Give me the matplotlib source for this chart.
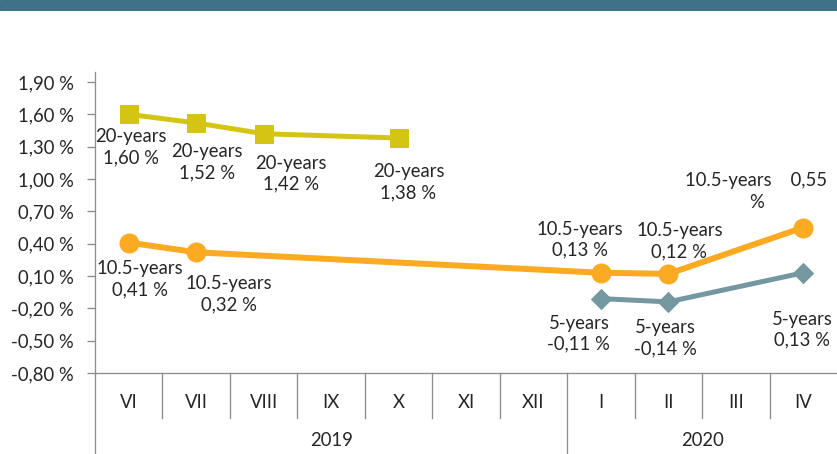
import matplotlib
matplotlib.use('Agg')
import matplotlib.pyplot as plt
from matplotlib.lines import Line2D
from matplotlib.patches import Rectangle

# data
months = ['VI', 'VII', 'VIII', 'IX', 'X', 'XI', 'XII', 'I', 'II', 'III', 'IV']
years = ['2019', '2020']
year_spans = [(0, 6), (7, 10)]

y20 = [1.60, 1.52, 1.42, None, 1.38, None, None, None, None, None, None]
y105 = [0.41, 0.32, None, None, None, None, None, 0.13, 0.12, None, 0.55]
y5 = [None, None, None, None, None, None, None, -0.11, -0.14, None, 0.13]

yticks = [-0.8, -0.5, -0.2, 0.1, 0.4, 0.7, 1.0, 1.3, 1.6, 1.9]

# label offsets (points) from each marker, as laid out in the original
off20 = [(2, -33), (11, -39), (27, -40), None, (10, -44)] + [None] * 6
off105 = [(11, -37), (33, -42)] + [None] * 5 + [(-21, 33), (11, 33), None, (-47, 36)]
off5 = [None] * 7 + [(-22, -35), (-3, -36), None, (-1, -57)]

FONT = 'Lato'
FS = 18.5
TXT = '#262626'
GRID = '#8c8c8c'

plt.rcParams['font.family'] = FONT


def fmt(v):
    return ('%.2f' % v).replace('.', ',') + ' %'


W, H = 837, 454
fig = plt.figure(figsize=(W / 72, H / 72), dpi=72)

# header strip
fig.patches.append(Rectangle((0, 1 - 10 / H), 1, 10 / H, transform=fig.transFigure,
                             color='#3f7189', zorder=0))

ax = fig.add_axes([95 / W, (H - 373) / H, (W - 95) / W, (373 - 72) / H])
ax.set_xlim(-0.5, len(months) - 0.5)
ax.set_ylim(-0.8, 1.9 + 10 / 32.33 * 0.3)

for s in ['top', 'right']:
    ax.spines[s].set_visible(False)
ax.spines['left'].set_color(GRID)
ax.spines['bottom'].set_color(GRID)
ax.spines['left'].set_linewidth(1.3)
ax.spines['bottom'].set_linewidth(1.3)

ax.set_yticks(yticks)
ax.set_yticklabels([fmt(v) for v in yticks])
ax.tick_params(axis='y', length=8, width=1.3, color=GRID, pad=13, labelsize=FS, labelcolor=TXT)
ax.set_xticks([])


def draw(vals, offs, color, marker, ms, lw, name):
    xs = [i for i, v in enumerate(vals) if v is not None]
    ys = [vals[i] for i in xs]
    ax.plot(xs, ys, color=color, lw=lw, marker=marker, ms=ms, mec=color, mfc=color,
            solid_capstyle='butt', clip_on=False, zorder=3)
    for i in xs:
        dx, dy = offs[i]
        lab = name + '\n' + fmt(vals[i])
        if i == 10 and name == '10.5-years':
            # the original wraps this one oddly
            lab = name + '    ' + fmt(vals[i])[:-2] + '\n%'
        ax.annotate(lab, (i, vals[i]), xytext=(dx, dy), textcoords='offset points',
                    ha='center', va='center', multialignment='center', fontsize=FS,
                    color=TXT, linespacing=1.3, zorder=4, annotation_clip=False)


draw(y20, off20, '#d4c514', 's', 18, 5, '20-years')
draw(y105, off105, '#fbaa21', 'o', 19, 6, '10.5-years')
draw(y5, off5, '#7497a0', 'D', 14, 5, '5-years')

# two-level category axis below the plot
tr = ax.get_xaxis_transform()
px = 1 / (373 - 72)  # one pixel in axes-fraction units
for k in range(1, len(months)):
    bottom = -(454 - 373) * px if k == 7 else -45 * px
    ax.add_line(Line2D([k - 0.5, k - 0.5], [0, bottom], transform=tr, color=GRID,
                       lw=1.3, clip_on=False))
ax.add_line(Line2D([-0.5, -0.5], [0, -(454 - 373) * px], transform=tr, color=GRID,
                   lw=1.3, clip_on=False))

for i, m in enumerate(months):
    ax.text(i, -30 * px, m, transform=tr, ha='center', va='center', fontsize=FS, color=TXT)
for yr, (a, b) in zip(years, year_spans):
    ax.text((a + b) / 2, -67 * px, yr, transform=tr, ha='center', va='center',
            fontsize=FS, color=TXT)

fig.savefig('out.png', dpi=72)
